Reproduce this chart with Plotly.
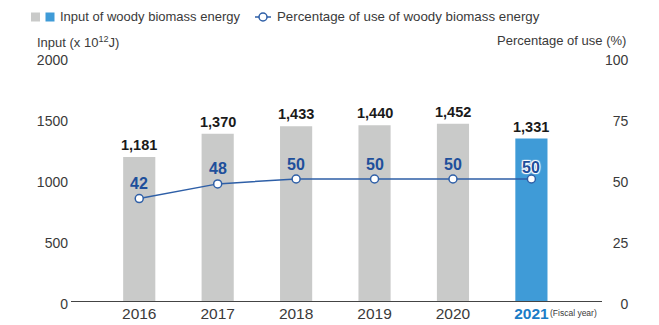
import plotly.graph_objects as go

# Fiscal years and values
years = ["2016", "2017", "2018", "2019", "2020", "2021"]
energy_input = [1181, 1370, 1433, 1440, 1452, 1331]      # x 10^12 J
use_pct = [42, 48, 50, 50, 50, 50]                      # %
left_ticks = [0, 500, 1000, 1500, 2000]
right_ticks = [0, 25, 50, 75, 100]

GRAY = "#c9cac9"
BLUE_BAR = "#3f9bd7"
LINE_BLUE = "#2e5fa7"
LABEL_BLUE = "#1e4f9b"
YEAR_BLUE = "#1b7cc6"
TXT = "#3a3a3a"
FONT = "Liberation Sans, Arial, sans-serif"

bar_colors = [GRAY] * (len(years) - 1) + [BLUE_BAR]
idx = list(range(len(years)))

fig = go.Figure()

fig.add_trace(go.Bar(
    x=idx, y=energy_input, marker_color=bar_colors, marker_line_width=0,
    width=0.41, yaxis="y", showlegend=False, hoverinfo="skip",
))

fig.add_trace(go.Scatter(
    x=idx, y=use_pct, yaxis="y2", mode="lines+markers",
    line=dict(color=LINE_BLUE, width=1.5),
    marker=dict(size=8, color="white", line=dict(color=LINE_BLUE, width=1.5)),
    showlegend=False, hoverinfo="skip", cliponaxis=False,
))

HALO = "1px 1px 1px white, -1px -1px 1px white, 1px -1px 1px white, -1px 1px 1px white"

annotations = []
# value labels above bars
for i, v in zip(idx, energy_input):
    annotations.append(dict(
        x=i, y=v, xref="x", yref="y", text=f"<b>{v:,}</b>", showarrow=False,
        yanchor="middle", yshift=12, font=dict(family=FONT, size=14.5, color="#1a1a1a"),
    ))
# percentage labels above markers
for i, p in zip(idx, use_pct):
    last = i == len(years) - 1
    font = dict(family=FONT, size=16, color=LABEL_BLUE)
    if last:
        font["shadow"] = HALO
    annotations.append(dict(
        x=i, y=p, xref="x", yref="y2", text=f"<b>{p}</b>", showarrow=False,
        yanchor="middle", yshift=12 if last else 15, font=font,
    ))

# axis titles
annotations.append(dict(
    x=-0.068, y=1.063, xref="paper", yref="paper", xanchor="left", yanchor="middle",
    text="Input (x 10<sup>12</sup>J)", showarrow=False, font=dict(family=FONT, size=13, color=TXT),
))
annotations.append(dict(
    x=1.049, y=1.067, xref="paper", yref="paper", xanchor="right", yanchor="middle",
    text="Percentage of use (%)", showarrow=False, font=dict(family=FONT, size=13, color=TXT),
))
annotations.append(dict(
    x=0.994, y=-0.049, xref="paper", yref="paper", xanchor="right", yanchor="middle",
    text="(Fiscal year)", showarrow=False, font=dict(family=FONT, size=8.5, color=TXT),
))

# legend
annotations.append(dict(
    x=-0.0245, y=1.164, xref="paper", yref="paper", xanchor="left", yanchor="middle",
    text="Input of woody biomass energy", showarrow=False, font=dict(family=FONT, size=13, color=TXT),
))
annotations.append(dict(
    x=0.384, y=1.164, xref="paper", yref="paper", xanchor="left", yanchor="middle",
    text="Percentage of use of woody biomass energy", showarrow=False,
    font=dict(family=FONT, size=13.3, color=TXT),
))

def px_x(px):
    return (px - 71) / 531

def px_y(py):
    return (301 - py) / 244

shapes = [
    dict(type="rect", xref="paper", yref="paper", x0=px_x(31), x1=px_x(40),
         y0=px_y(21.5), y1=px_y(12.5), fillcolor=GRAY, line_width=0),
    dict(type="rect", xref="paper", yref="paper", x0=px_x(45.5), x1=px_x(54.5),
         y0=px_y(21.5), y1=px_y(12.5), fillcolor=BLUE_BAR, line_width=0),
    dict(type="line", xref="paper", yref="paper", x0=px_x(255), x1=px_x(271),
         y0=px_y(17), y1=px_y(17), line=dict(color=LINE_BLUE, width=1.5)),
    dict(type="circle", xref="paper", yref="paper", x0=px_x(259), x1=px_x(267),
         y0=px_y(21), y1=px_y(13), fillcolor="white", line=dict(color=LINE_BLUE, width=1.5)),
]

year_text = years[:-1] + [f"<b><span style='color:{YEAR_BLUE}'>{years[-1]}</span></b>"]
fs = "\u2007"
right_text = [fs * (3 - len(str(t))) + str(t) for t in right_ticks]

fig.update_layout(
    width=659, height=325,
    margin=dict(l=71, r=57, t=57, b=24),
    paper_bgcolor="white", plot_bgcolor="white",
    font=dict(family=FONT, color=TXT),
    xaxis=dict(
        range=[-0.87, 5.9], tickvals=idx, ticktext=year_text, automargin=False,
        showgrid=False, zeroline=False, showline=True, linecolor="#444", linewidth=1.3,
        ticks="", tickfont=dict(size=15.5, color=TXT), ticklabelstandoff=-2,
    ),
    yaxis=dict(
        range=[0, 2000], tickvals=left_ticks, showgrid=False, zeroline=False, automargin=False,
        showline=False, ticks="", tickfont=dict(size=14, color=TXT), ticklabelshift=3,
        ticklabelstandoff=2,
    ),
    yaxis2=dict(
        range=[0, 100], overlaying="y", side="right", tickvals=right_ticks, ticktext=right_text,
        showgrid=False, zeroline=False, showline=False, ticks="", automargin=False,
        tickfont=dict(size=14, color=TXT), ticklabelshift=3, ticklabelstandoff=2,
    ),
    annotations=annotations,
    shapes=shapes,
)

fig.write_html("out.html")
